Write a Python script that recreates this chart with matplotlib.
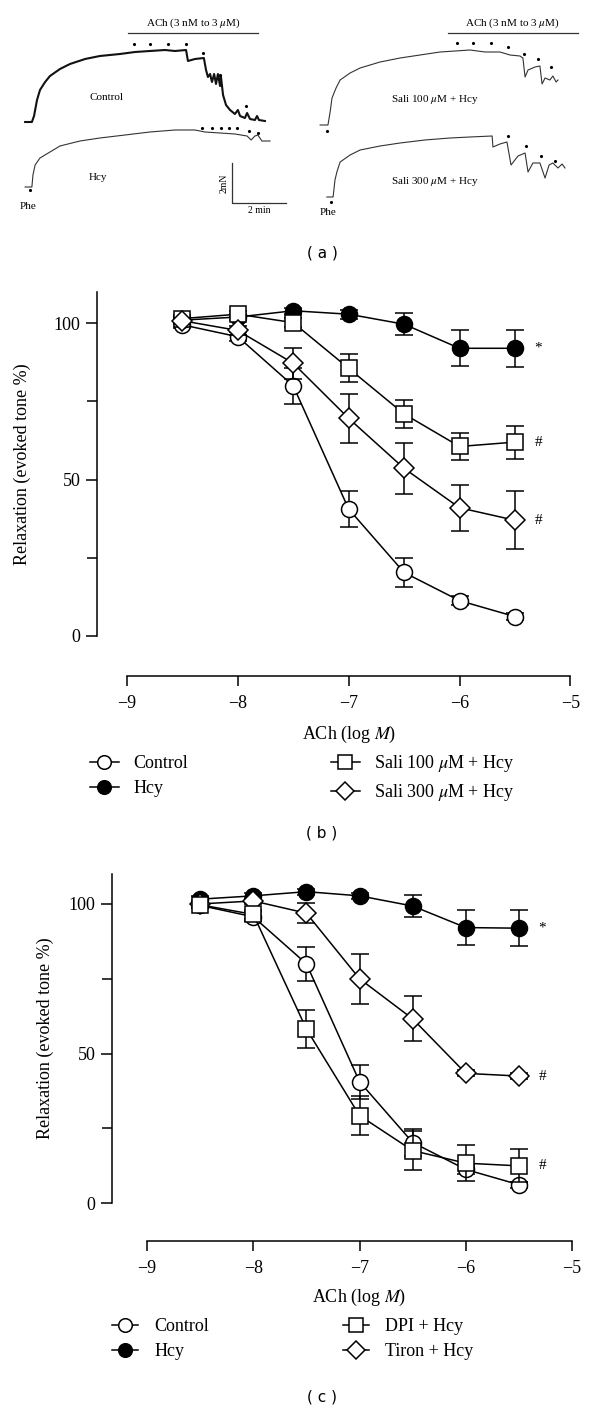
import matplotlib
matplotlib.use("Agg")
import matplotlib.pyplot as plt
import matplotlib.transforms as mtransforms
from matplotlib.lines import Line2D

plt.rcParams['font.family'] = ['Liberation Serif', 'DejaVu Serif']
plt.rcParams['mathtext.fontset'] = 'stix'

W, H = 600, 1413

# ---------- (a) isometric tension traces: time (min), tension (mN) ----------
ctrl_t = [0.19, 0.44, 0.52, 0.63, 0.74, 0.93, 1.11, 1.48, 1.85, 2.41, 2.96, 3.70, 4.26, 4.81,
          5.37, 5.74, 6.15, 6.22, 6.48, 6.81, 6.89, 6.96, 7.04, 7.11, 7.19, 7.26, 7.33, 7.41,
          7.44, 7.52, 7.63, 7.78, 7.96, 8.07, 8.15, 8.33, 8.41, 8.52, 8.70, 8.78, 8.85, 9.07]
ctrl_mn = [5.40, 5.40, 5.70, 6.50, 7.00, 7.40, 7.70, 8.05, 8.30, 8.55, 8.70, 8.80, 8.90, 8.95,
           9.00, 8.95, 9.00, 8.45, 8.55, 8.60, 8.00, 7.65, 7.80, 7.40, 7.80, 7.30, 7.80, 7.20,
           7.70, 6.75, 6.25, 6.00, 5.80, 6.00, 5.70, 5.60, 5.85, 5.55, 5.50, 5.70, 5.50, 5.45]
ctrl_dot_t = [4.22, 4.81, 5.48, 6.15, 6.78, 7.41, 8.37]
ctrl_dot_mn = [9.3, 9.3, 9.3, 9.3, 8.85, 7.75, 6.2]

hcy_t = [0.19, 0.44, 0.48, 0.56, 0.74, 1.11, 1.48, 2.22, 2.96, 3.89, 4.81, 5.74, 6.48, 6.85,
         7.41, 7.96, 8.41, 8.56, 8.70, 8.81, 8.96, 9.26]
hcy_mn = [2.15, 2.15, 2.75, 3.25, 3.60, 3.90, 4.20, 4.45, 4.60, 4.75, 4.90, 5.00, 5.00, 4.90,
          4.85, 4.80, 4.70, 4.50, 4.70, 4.75, 4.45, 4.45]
hcy_dot_t = [0.37, 6.74, 7.11, 7.44, 7.74, 8.04, 8.48, 8.81]
hcy_dot_mn = [2.0, 5.1, 5.1, 5.1, 5.1, 5.1, 4.95, 4.85]

s100_t = [0.19, 0.48, 0.56, 0.63, 0.78, 0.93, 1.30, 1.67, 2.41, 3.15, 3.89, 4.63, 5.19, 5.74,
          6.30, 6.85, 7.22, 7.59, 7.70, 7.78, 7.89, 8.15, 8.33, 8.41, 8.52, 8.70, 8.81, 8.93, 9.00]
s100_mn = [5.25, 5.25, 5.90, 6.60, 7.10, 7.50, 7.85, 8.10, 8.40, 8.60, 8.75, 8.90, 8.95, 9.00,
           8.90, 8.90, 8.75, 8.70, 8.60, 7.65, 8.00, 8.15, 8.20, 7.30, 7.60, 7.50, 7.70, 7.40, 7.50]
s100_dot_t = [0.44, 5.26, 5.85, 6.52, 7.15, 7.74, 8.26, 8.74]
s100_dot_mn = [4.95, 9.35, 9.35, 9.35, 9.15, 8.8, 8.55, 8.15]

s300_t = [0.44, 0.67, 0.74, 0.81, 0.93, 1.30, 1.67, 2.41, 3.15, 4.07, 5.00, 5.74, 6.56, 6.59,
          6.85, 7.11, 7.26, 7.52, 7.78, 7.89, 8.07, 8.33, 8.52, 8.67, 8.81, 9.00, 9.15, 9.26]
s300_mn = [1.65, 1.65, 2.50, 2.90, 3.40, 3.75, 4.00, 4.20, 4.35, 4.50, 4.60, 4.65, 4.70, 4.15,
           4.30, 4.40, 3.25, 3.70, 3.85, 2.90, 3.35, 3.35, 2.60, 3.25, 3.35, 3.10, 3.30, 3.10]
s300_dot_t = [0.59, 7.15, 7.81, 8.37, 8.89]
s300_dot_mn = [1.4, 4.7, 4.2, 3.7, 3.45]

# ---------- (b), (c) concentration-response (relaxation, % evoked tone) ----------
log_ach = [-8.5, -8.0, -7.5, -7.0, -6.5, -6.0, -5.5]

control = [99.5, 95.7, 80.0, 40.6, 20.3, 11.3, 6.2]
control_err = [1.0, 1.5, 5.7, 5.7, 4.6, 1.5, 1.0]

hcy_b = [101.0, 102.0, 104.0, 102.9, 99.7, 92.0, 92.0]
hcy_b_err = [1.0, 1.0, 1.0, 1.5, 3.6, 5.7, 5.9]
sali100 = [101.5, 102.9, 100.2, 85.6, 71.0, 60.6, 62.0]
sali100_err = [1.0, 1.0, 1.5, 4.5, 4.4, 4.4, 5.3]
sali300 = [100.8, 97.7, 87.2, 69.6, 53.6, 41.0, 37.0]
sali300_err = [1.0, 1.5, 5.0, 7.8, 8.2, 7.4, 9.3]

hcy_c = [101.6, 102.7, 104.1, 102.7, 99.3, 92.1, 91.9]
hcy_c_err = [1.0, 1.0, 1.0, 1.0, 3.6, 5.9, 6.0]
dpi = [99.7, 96.5, 58.2, 29.3, 17.6, 13.4, 12.5]
dpi_err = [1.0, 1.5, 6.4, 6.6, 6.4, 6.0, 5.5]
tiron = [100.0, 101.0, 96.9, 75.0, 61.6, 43.4, 42.5]
tiron_err = [1.0, 1.0, 3.3, 8.4, 7.5, 1.0, 1.0]

x_ticks = [-9, -8, -7, -6, -5]
y_ticks = [0, 50, 100]

fig = plt.figure(figsize=(W / 100, H / 100), dpi=100)


def px_axes(left, top, right, bottom):
    return fig.add_axes([left / W, 1 - bottom / H, (right - left) / W, (bottom - top) / H])


# ---- panel (a)
trace_font = 8
for side in ['left', 'right']:
    if side == 'left':
        ax = px_axes(20, 0, 292, 230)
        ax.plot(ctrl_t, ctrl_mn, color='#111111', lw=1.5)
        ax.plot(hcy_t, hcy_mn, color='#333333', lw=0.8)
        ax.plot(ctrl_dot_t, ctrl_dot_mn, 'k.', ms=2.5)
        ax.plot(hcy_dot_t, hcy_dot_mn, 'k.', ms=2.5)
        ax.text(3.22, 6.65, 'Control', fontsize=trace_font, ha='center', va='center')
        ax.text(2.89, 2.65, 'Hcy', fontsize=trace_font, ha='center', va='center')
        ax.text(0.3, 1.4, 'Phe', fontsize=trace_font, ha='center', va='top')
        ax.plot([4.0, 8.81], [9.85, 9.85], color='#333333', lw=0.9)
        ax.text(6.41, 10.0, r'ACh (3 nM to 3 $\mu$M)', fontsize=trace_font, ha='center', va='bottom')
        # scale bar 2 mN / 2 min
        ax.plot([7.85, 7.85, 9.85], [3.35, 1.35, 1.35], color='#333333', lw=0.9)
        ax.text(7.55, 2.35, '2mN', fontsize=7, rotation=90, ha='center', va='center')
        ax.text(8.85, 1.2, '2 min', fontsize=7, ha='center', va='top')
    else:
        ax = px_axes(315, 0, 587, 230)
        ax.plot(s100_t, s100_mn, color='#333333', lw=0.8)
        ax.plot(s300_t, s300_mn, color='#333333', lw=0.8)
        ax.plot(s100_dot_t, s100_dot_mn, 'k.', ms=2.5)
        ax.plot(s300_dot_t, s300_dot_mn, 'k.', ms=2.5)
        ax.text(4.44, 6.5, r'Sali 100 $\mu$M + Hcy', fontsize=trace_font, ha='center', va='center')
        ax.text(4.44, 2.4, r'Sali 300 $\mu$M + Hcy', fontsize=trace_font, ha='center', va='center')
        ax.text(0.48, 1.1, 'Phe', fontsize=trace_font, ha='center', va='top')
        ax.plot([4.93, 9.74], [9.85, 9.85], color='#333333', lw=0.9)
        ax.text(7.3, 10.0, r'ACh (3 nM to 3 $\mu$M)', fontsize=trace_font, ha='center', va='bottom')
    ax.set_xlim(0, 272 / 27)
    ax.set_ylim(0, 11.5)
    ax.axis('off')


def curve_panel(box, xlim, ybottom, series, notes, leg):
    ax = px_axes(*box)
    for label, vals, errs, marker, face, ms, z in series:
        ax.errorbar(log_ach, vals, yerr=errs, marker=marker, ms=ms, mfc=face, mec='black',
                    mew=1.1, color='black', lw=1.1, elinewidth=1.1, capsize=6.5, capthick=1.1,
                    label=label, zorder=z)
    for xv, yv, txt in notes:
        ax.annotate(txt, (xv, yv), xytext=(14, 0), textcoords='offset points',
                    fontsize=11, ha='left', va='center')
    ax.set_xlim(*xlim)
    ax.set_ylim(ybottom, 110)
    for s in ['top', 'right']:
        ax.spines[s].set_visible(False)
    ax.spines['left'].set_bounds(0, 110)
    ax.spines['bottom'].set_bounds(-9, -5)
    for s in ['left', 'bottom']:
        ax.spines[s].set_linewidth(1.1)
    ax.set_xticks(x_ticks)
    ax.set_yticks(y_ticks)
    ax.set_yticks([25, 75], minor=True)
    ax.tick_params(axis='both', which='both', direction='out', width=1.1, labelsize=13)
    ax.tick_params(axis='y', which='major', length=8, pad=4)
    ax.tick_params(axis='y', which='minor', length=7)
    ax.tick_params(axis='x', length=7, pad=7)
    ax.set_xlabel(r'ACh (log $M$)', fontsize=13)
    ax.xaxis.set_label_coords((-7 - xlim[0]) / (xlim[1] - xlim[0]), -0.125)
    ax.set_ylabel('Relaxation (evoked tone %)', fontsize=13)
    trans = mtransforms.blended_transform_factory(fig.transFigure, ax.transData)
    ax.yaxis.set_label_coords(leg['ylab_x'] / W, 55, transform=trans)

    handles = [Line2D([], [], color='black', lw=1.1, marker=s[3], ms=s[5] * 0.85, mfc=s[4],
                      mec='black', mew=1.1) for s in series]
    labels = [s[0] for s in series]
    fig.legend(handles, labels, ncol=2, loc='upper left', frameon=False, fontsize=13,
               bbox_to_anchor=(leg['x'] / W, 1 - leg['y'] / H), borderpad=0, borderaxespad=0,
               handlelength=leg['hl'], handletextpad=leg['pad'], columnspacing=leg['cs'],
               labelspacing=0.45)
    return ax


# ---- panel (b)
curve_panel((97, 292, 587, 676), (-9.27, -4.85), -12.8,
            [('Control', control, control_err, 'o', 'white', 11.5, 2),
             ('Hcy', hcy_b, hcy_b_err, 'o', 'black', 11.5, 3),
             (r'Sali 100 $\mu$M + Hcy', sali100, sali100_err, 's', 'white', 11.5, 4),
             (r'Sali 300 $\mu$M + Hcy', sali300, sali300_err, 'D', 'white', 10.5, 5)],
            [(-5.5, hcy_b[-1], '*'), (-5.5, sali100[-1], '#'), (-5.5, sali300[-1], '#')],
            {'x': 90, 'y': 753, 'hl': 1.6, 'pad': 0.8, 'cs': 7.9, 'ylab_x': 31})

# ---- panel (c): DPI drawn above Tiron, as in the original
curve_panel((112, 874, 588, 1241), (-9.33, -4.85), -12.6,
            [('Control', control, control_err, 'o', 'white', 11.5, 2),
             ('Hcy', hcy_c, hcy_c_err, 'o', 'black', 11.5, 3),
             ('DPI + Hcy', dpi, dpi_err, 's', 'white', 11.5, 5),
             ('Tiron + Hcy', tiron, tiron_err, 'D', 'white', 10.5, 4)],
            [(-5.5, hcy_c[-1], '*'), (-5.5, tiron[-1], '#'), (-5.5, dpi[-1], '#')],
            {'x': 112, 'y': 1318, 'hl': 1.45, 'pad': 0.9, 'cs': 7.4, 'ylab_x': 54})

for label, ypx in [('( a )', 253), ('( b )', 833), ('( c )', 1397)]:
    fig.text(322 / W, 1 - ypx / H, label, ha='center', va='center', fontsize=11,
             family='DejaVu Sans')

fig.savefig('out.png', dpi=100)
